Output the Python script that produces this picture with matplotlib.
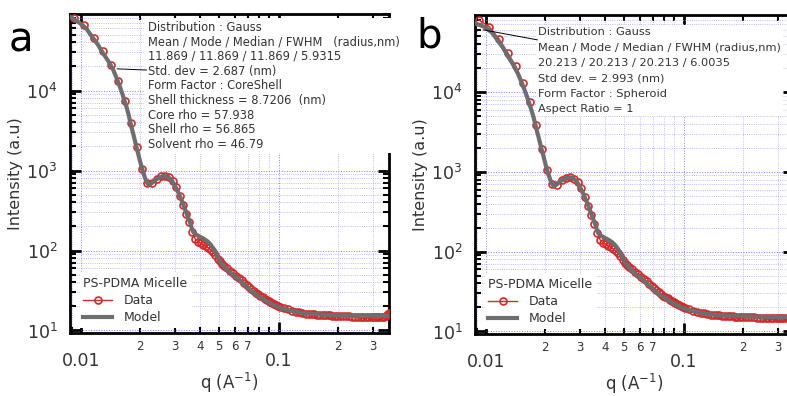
import numpy as np
import matplotlib
matplotlib.use("Agg")
import matplotlib.pyplot as plt
from matplotlib.ticker import LogLocator, FuncFormatter, NullFormatter

# measured SAXS data, PS-PDMA micelle (same set in both panels)
data_q = [0.0092, 0.0104, 0.0117, 0.0129, 0.0142, 0.0154, 0.0167, 0.0179, 0.0192, 0.0204,
          0.0217, 0.0229, 0.0242, 0.0254, 0.0267, 0.0279, 0.0292, 0.0304, 0.0317, 0.0329,
          0.0342, 0.0354, 0.0367, 0.0379, 0.0392, 0.0404, 0.0417, 0.0429, 0.0442, 0.0454,
          0.0467, 0.0479, 0.0492, 0.0504, 0.0517, 0.0529,
          0.055, 0.057, 0.059, 0.061, 0.063, 0.065, 0.067, 0.069, 0.071, 0.073,
          0.075, 0.077, 0.079, 0.081, 0.083, 0.085, 0.087, 0.089, 0.091, 0.093,
          0.095, 0.097, 0.099,
          0.102, 0.107, 0.112, 0.117, 0.122, 0.127, 0.132, 0.137, 0.142, 0.147,
          0.152, 0.157, 0.162, 0.167, 0.172, 0.177, 0.182, 0.187, 0.192, 0.197,
          0.204, 0.212, 0.220, 0.228, 0.236, 0.244, 0.252, 0.260, 0.268, 0.276,
          0.284, 0.292, 0.300, 0.308, 0.316, 0.324, 0.332, 0.340, 0.348, 0.354,
          0.358, 0.361]
data_I = [8.0e4, 6.6e4, 4.6e4, 3.1e4, 2.1e4, 1.3e4, 7.5e3, 3.9e3, 1.95e3, 1.05e3,
          700, 690, 780, 845, 855, 820, 735, 620, 485, 370,
          290, 225, 172, 140, 128, 123, 118, 113, 108, 102,
          95, 87, 79, 73, 68, 64,
          60, 56, 52, 48.5, 45.5, 42.5, 39.8, 37.2, 35.0, 33.0,
          31.2, 29.6, 28.2, 27.0, 25.9, 24.9, 24.0, 23.2, 22.5, 21.8,
          21.2, 20.7, 20.2,
          19.6, 18.9, 18.3, 17.7, 17.2, 16.8, 16.5, 16.3, 16.2, 16.05,
          15.9, 15.8, 15.7, 15.6, 15.5, 15.45, 15.4, 15.3, 15.25, 15.2,
          15.15, 15.1, 15.05, 15.0, 14.95, 14.9, 14.85, 14.85, 14.8, 14.8,
          14.8, 14.8, 14.8, 14.8, 14.8, 14.8, 14.85, 14.9, 15.1, 15.5,
          16.0, 16.4]

# fitted models
model_q = [0.00889, 0.00988, 0.01070, 0.01151, 0.01225, 0.01294, 0.01375, 0.01453, 0.01515, 0.01578,
           0.01635, 0.01692, 0.01745, 0.01794, 0.01850, 0.01902, 0.01960, 0.02017, 0.02065, 0.02114,
           0.02160, 0.02203, 0.02250, 0.02293, 0.02360, 0.02432, 0.02520, 0.02609, 0.02690, 0.02766,
           0.02830, 0.02898, 0.02965, 0.03036, 0.03110, 0.03183, 0.03280, 0.03375, 0.03475, 0.03575,
           0.03640, 0.03705, 0.03850, 0.04018, 0.04190, 0.04361, 0.04520, 0.04677, 0.04820, 0.04955,
           0.05130, 0.05316, 0.05750, 0.06194, 0.06700, 0.07209, 0.07800, 0.08498, 0.09300, 0.1023,
           0.1130, 0.1248, 0.1400, 0.1600, 0.1836, 0.2200, 0.2701, 0.3200, 0.3531]
model_a = [8.3e4, 7.0e4, 5.9e4, 4.55e4, 3.7e4, 2.95e4, 2.35e4, 1.86e4, 1.45e4, 1.11e4,
           8.6e3, 6.6e3, 5.0e3, 3.7e3, 2.75e3, 2.08e3, 1.55e3, 1.17e3, 960, 806,
           710, 665, 675, 700, 745, 785, 825, 850, 848, 830,
           790, 740, 675, 604, 535, 467, 390, 321, 265, 221,
           190, 170, 157, 148, 140, 131, 120, 107, 93, 80.5,
           70, 62.2, 52, 45.3, 38.0, 32.1, 27.5, 24.0, 21.2, 19.1,
           17.9, 17.0, 16.3, 15.9, 15.6, 15.4, 15.2, 15.2, 15.2]
model_b = [7.2e4, 6.5e4, 5.6e4, 4.4e4, 3.55e4, 2.8e4, 2.2e4, 1.7e4, 1.33e4, 1.03e4,
           8.0e3, 6.2e3, 4.8e3, 3.6e3, 2.7e3, 2.05e3, 1.55e3, 1.17e3, 960, 806,
           710, 665, 675, 700, 745, 785, 825, 850, 848, 830,
           790, 740, 675, 604, 535, 467, 390, 321, 265, 221,
           190, 170, 157, 148, 140, 131, 120, 107, 93, 80.5,
           70, 62.2, 52, 45.3, 38.0, 32.1, 27.5, 24.0, 21.2, 19.1,
           17.9, 17.0, 16.3, 15.9, 15.6, 15.4, 15.2, 15.2, 15.2]

text_a = ("Distribution : Gauss\n"
          "Mean / Mode / Median / FWHM   (radius,nm)\n"
          "11.869 / 11.869 / 11.869 / 5.9315\n"
          "Std. dev = 2.687 (nm)\n"
          "Form Factor : CoreShell\n"
          "Shell thickness = 8.7206  (nm)\n"
          "Core rho = 57.938\n"
          "Shell rho = 56.865\n"
          "Solvent rho = 46.79")
text_b = ("Distribution : Gauss\n"
          "Mean / Mode / Median / FWHM (radius,nm)\n"
          "20.213 / 20.213 / 20.213 / 6.0035\n"
          "Std dev. = 2.993 (nm)\n"
          "Form Factor : Spheroid\n"
          "Aspect Ratio = 1")

red = '#d42a2a'
grey = '#6e6e6e'
txt = '#333333'


def major_fmt(v, pos):
    if abs(v - 0.01) < 1e-6:
        return '0.01'
    if abs(v - 0.1) < 1e-5:
        return '0.1'
    return ''


def minor_fmt(v, pos):
    d = v / 10 ** np.floor(np.log10(v) + 1e-9)
    d = int(round(d))
    if 2 <= d <= 7:
        return str(d)
    return ''


def y_fmt(v, pos):
    return r'$\mathregular{10^{%d}}$' % int(round(np.log10(v)))


def setup(ax, model, text, fs, tpos, ann_xy, ann_txt, lsp):
    ax.set_xscale('log')
    ax.set_yscale('log')
    ax.plot(data_q, data_I, color=red, lw=1, marker='o', ms=5, mfc='none',
            mew=1.2, label='Data', zorder=3)
    ax.plot(model_q, model, color=grey, lw=3, label='Model', zorder=4)
    ax.set_xlim(0.00882, 0.362)
    ax.set_ylim(9.3, 9.2e4)

    ax.xaxis.set_major_locator(LogLocator(base=10))
    ax.xaxis.set_minor_locator(LogLocator(base=10, subs=range(2, 10)))
    ax.xaxis.set_major_formatter(FuncFormatter(major_fmt))
    ax.xaxis.set_minor_formatter(FuncFormatter(minor_fmt))
    ax.yaxis.set_major_locator(LogLocator(base=10))
    ax.yaxis.set_minor_locator(LogLocator(base=10, subs=range(2, 10)))
    ax.yaxis.set_major_formatter(FuncFormatter(y_fmt))
    ax.yaxis.set_minor_formatter(NullFormatter())

    ax.tick_params(which='both', direction='in', top=True, right=True,
                   colors='black', labelcolor=txt)
    ax.tick_params(which='major', length=8, width=2, labelsize=12.5)
    ax.tick_params(which='minor', length=4.5, width=1.5, labelsize=8.5)
    ax.tick_params(axis='x', which='major', pad=14)
    ax.tick_params(axis='x', which='minor', pad=5)
    ax.tick_params(axis='y', which='major', pad=9)
    for s in ax.spines.values():
        s.set_linewidth(2)

    ax.set_axisbelow(True)
    ax.grid(True, which='major', color='#7c7cff', lw=0.7, ls=':')
    ax.grid(True, which='minor', color='#a6a6ff', lw=0.6, ls=':')

    ax.set_ylabel('Intensity (a.u)', fontsize=11.5, color=txt, labelpad=2)
    ax.set_xlabel(r'q (A$^{-1}$)', fontsize=12, color=txt, labelpad=0)

    ax.text(tpos[0], tpos[1], text, transform=ax.transAxes, fontsize=fs,
            color=txt, va='top', ha='left', linespacing=lsp, zorder=5,
            bbox=dict(facecolor='white', edgecolor='none', pad=1.5))
    ax.annotate('', xy=ann_xy, xycoords='data', xytext=ann_txt,
                textcoords='axes fraction',
                arrowprops=dict(arrowstyle='-', color='black', lw=0.7,
                                shrinkA=0, shrinkB=0), zorder=6)

    leg = ax.legend(title='PS-PDMA Micelle', loc='lower left',
                    bbox_to_anchor=(0.03, 0.015), borderaxespad=0,
                    frameon=True, fancybox=False, edgecolor='none',
                    facecolor='white', framealpha=1, fontsize=9,
                    title_fontsize=9, handlelength=2.3, handletextpad=0.9,
                    numpoints=1, borderpad=0.3, labelspacing=0.35,
                    alignment='left')
    for t in leg.get_texts():
        t.set_color(txt)
    leg.get_title().set_color(txt)
    leg.set_zorder(7)


fig = plt.figure(figsize=(7.87, 3.96), dpi=100)
ax1 = fig.add_axes([70 / 787, 63 / 396, 319 / 787, 319.5 / 396])
ax2 = fig.add_axes([475 / 787, 62 / 396, 319 / 787, 319 / 396])

setup(ax1, model_a, text_a, 8.3, (0.243, 0.978), (0.01525, 1.87e4), (0.24, 0.823), 1.17)
setup(ax2, model_b, text_b, 8.2, (0.198, 0.962), (0.0097, 6.0e4), (0.196, 0.922), 1.68)

fig.text(21 / 787, 1 - 40 / 396, 'a', fontsize=29, ha='center', va='center')
fig.text(429 / 787, 1 - 36 / 396, 'b', fontsize=29, ha='center', va='center')

fig.savefig('out.png', dpi=100)
